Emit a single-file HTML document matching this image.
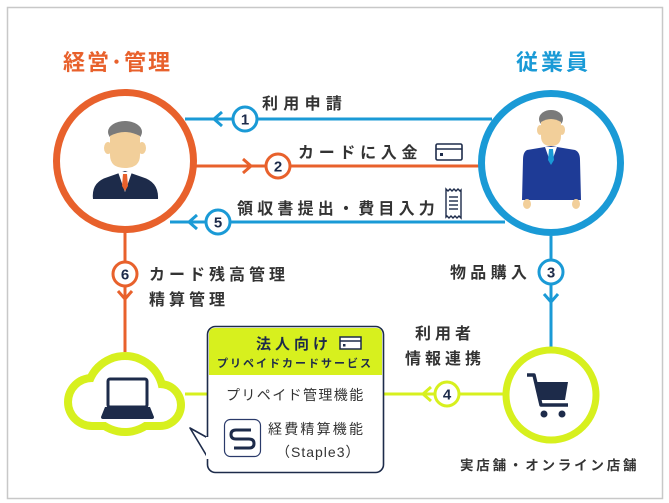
<!DOCTYPE html>
<html><head><meta charset="utf-8"><style>
html,body{margin:0;padding:0;background:#fff;}
svg{display:block;}
text{font-family:"Liberation Sans","Noto Sans CJK JP",sans-serif;}
</style></head><body>
<svg width="669" height="503" viewBox="0 0 669 503" xmlns="http://www.w3.org/2000/svg">
<rect x="7.5" y="7.5" width="655" height="491" fill="#fff" stroke="#c8c8c8" stroke-width="1.5"/>

<!-- titles -->
<text x="63" y="70" font-size="22" font-weight="bold" fill="#e8612c" letter-spacing="2">経営･管理</text>
<text x="516" y="70" font-size="22" font-weight="bold" fill="#1a9ad6" letter-spacing="3">従業員</text>

<!-- horizontal lines -->
<line x1="185" y1="119" x2="492" y2="119" stroke="#1a9ad6" stroke-width="3"/>
<line x1="195" y1="166" x2="482" y2="166" stroke="#e8612c" stroke-width="3"/>
<line x1="170" y1="222" x2="505" y2="222" stroke="#1a9ad6" stroke-width="3"/>
<polyline points="222,112 214,119 222,126" fill="none" stroke="#1a9ad6" stroke-width="3"/>
<polyline points="243,159 251,166 243,173" fill="none" stroke="#e8612c" stroke-width="3"/>
<polyline points="197,215 189,222 197,229" fill="none" stroke="#1a9ad6" stroke-width="3"/>

<!-- vertical lines -->
<line x1="125" y1="232" x2="125" y2="352" stroke="#e8612c" stroke-width="3"/>
<polyline points="118,291 125,299 132,291" fill="none" stroke="#e8612c" stroke-width="3"/>
<line x1="551" y1="236" x2="551" y2="347" stroke="#1a9ad6" stroke-width="3"/>
<polyline points="544,294 551,302 558,294" fill="none" stroke="#1a9ad6" stroke-width="3"/>

<!-- lime lines -->
<line x1="185" y1="394" x2="207" y2="394" stroke="#d7f01e" stroke-width="3"/>
<line x1="384" y1="394" x2="505" y2="394" stroke="#d7f01e" stroke-width="3"/>
<polyline points="431,387 423,394 431,401" fill="none" stroke="#d7f01e" stroke-width="3"/>

<!-- number circles -->
<g font-size="15" font-weight="bold" fill="#1d2b4a" text-anchor="middle">
<circle cx="245" cy="119" r="12" fill="#fff" stroke="#1a9ad6" stroke-width="3"/><text x="245" y="124.5">1</text>
<circle cx="278" cy="166" r="12" fill="#fff" stroke="#e8612c" stroke-width="3"/><text x="278" y="171.5">2</text>
<circle cx="218" cy="222" r="12" fill="#fff" stroke="#1a9ad6" stroke-width="3"/><text x="218" y="227.5">5</text>
<circle cx="125" cy="274" r="12" fill="#fff" stroke="#e8612c" stroke-width="3"/><text x="125" y="279.5">6</text>
<circle cx="551" cy="272" r="12" fill="#fff" stroke="#1a9ad6" stroke-width="3"/><text x="551" y="277.5">3</text>
<circle cx="447" cy="394" r="12" fill="#fff" stroke="#d7f01e" stroke-width="3"/><text x="447" y="399.5">4</text>
</g>

<!-- labels -->
<g font-size="16" fill="#333" font-weight="bold">
<text x="262" y="109" letter-spacing="5.3">利用申請</text>
<text x="298" y="158" letter-spacing="4.7">カードに入金</text>
<text x="237" y="214" letter-spacing="4.2">領収書提出・費目入力</text>
<text x="149" y="280" letter-spacing="4">カード残高管理</text>
<text x="149" y="305" letter-spacing="4">精算管理</text>
<text x="450" y="278" letter-spacing="4.3">物品購入</text>
<text x="415" y="339" letter-spacing="4">利用者</text>
<text x="405" y="364" letter-spacing="4">情報連携</text>
<text x="460" y="470" font-size="13.5" letter-spacing="2.8">実店舗・オンライン店舗</text>
</g>
<!-- card icon -->
<rect x="436" y="144" width="26" height="16" rx="1.5" fill="#fff" stroke="#1d2b4a" stroke-width="1.6"/>
<line x1="436" y1="149" x2="462" y2="149" stroke="#1d2b4a" stroke-width="1.6"/>
<rect x="440" y="153" width="3" height="3" fill="#1d2b4a"/>
<!-- receipt icon -->
<path d="M446,189 L448,191 L450,189 L452,191 L454,189 L456,191 L458,189 L460,191 L461,190 V218 L459,216 L457,218 L455,216 L453,218 L451,216 L449,218 L447,216 L446,217 Z" fill="#fff" stroke="#1d2b4a" stroke-width="1.4"/>
<g stroke="#1d2b4a" stroke-width="1.4"><line x1="449" y1="197" x2="458" y2="197"/><line x1="449" y1="201" x2="458" y2="201"/><line x1="449" y1="205" x2="458" y2="205"/><line x1="449" y1="209" x2="458" y2="209"/></g>

<!-- left person circle -->
<circle cx="125" cy="161" r="68.5" fill="#fff" stroke="#e8612c" stroke-width="7"/>
<ellipse cx="125" cy="132" rx="17" ry="11" fill="#7a7a7a"/>
<ellipse cx="108" cy="148" rx="4" ry="6" fill="#f2cf9a"/>
<ellipse cx="142" cy="148" rx="4" ry="6" fill="#f2cf9a"/>
<path d="M110,136 Q125,128 140,136 V155 Q140,168 125,168 Q110,168 110,155 Z" fill="#f2cf9a"/>
<path d="M93,199 Q91,182 108,177 L125,171 L142,177 Q159,182 158,199 Z" fill="#1d2b4a"/>
<path d="M118,172 L125,192 L132,172 Z" fill="#fff"/>
<path d="M123,174 L127,174 L128,186 L125,191 L122,186 Z" fill="#e8612c"/>

<!-- right person circle -->
<circle cx="551" cy="163" r="69.5" fill="#fff" stroke="#1a9ad6" stroke-width="7"/>
<ellipse cx="551" cy="119" rx="12" ry="9" fill="#7a7a7a"/>
<ellipse cx="540" cy="130" rx="3" ry="5" fill="#f2cf9a"/>
<ellipse cx="562" cy="130" rx="3" ry="5" fill="#f2cf9a"/>
<path d="M541,122 Q551,116 561,122 V136 Q561,146 551,146 Q541,146 541,136 Z" fill="#f2cf9a"/>
<path d="M527,150 L551,146 L575,150 Q580,152 580,160 L581,200 L522,200 L523,160 Q523,152 527,150 Z" fill="#1e3b96"/>
<path d="M545,147 L551,164 L557,147 Z" fill="#fff"/>
<path d="M549,149 L553,149 L554,160 L551,165 L548,160 Z" fill="#1a9ad6"/>
<ellipse cx="527" cy="204" rx="4" ry="5" fill="#f2cf9a"/>
<ellipse cx="576" cy="204" rx="4" ry="5" fill="#f2cf9a"/>

<!-- cloud -->
<g fill="#d7f01e">
<circle cx="92" cy="402" r="28"/><circle cx="125" cy="394" r="42"/><circle cx="160" cy="405" r="25"/>
<rect x="92" y="400" width="68" height="30"/>
</g>
<g fill="#fff">
<circle cx="92" cy="402" r="20"/><circle cx="125" cy="394" r="34"/><circle cx="160" cy="405" r="17"/>
<rect x="92" y="400" width="68" height="22"/>
</g>
<rect x="108" y="379" width="39" height="28" rx="2" fill="#fff" stroke="#1d2b4a" stroke-width="3"/>
<path d="M105,407 H150 L154,417 Q154,419 152,419 H103 Q101,419 101,417 Z" fill="#1d2b4a"/>

<!-- cart circle -->
<circle cx="551" cy="395" r="45" fill="#fff" stroke="#d7f01e" stroke-width="7"/>
<path d="M527,375 H534 L541,405 H568" fill="none" stroke="#1d2b4a" stroke-width="3.5" stroke-linejoin="round"/>
<path d="M535,382 H568 L565,400 H539 Z" fill="#1d2b4a"/>
<circle cx="544" cy="414" r="3.5" fill="#1d2b4a"/><circle cx="562" cy="414" r="3.5" fill="#1d2b4a"/>

<!-- callout -->
<path d="M208,438 L190,428 L208,458 Z" fill="#fff" stroke="#1d2b4a" stroke-width="1.6" stroke-linejoin="round"/>
<rect x="207.5" y="326.5" width="176" height="146" rx="8" fill="#fff" stroke="#1d2b4a" stroke-width="1.6"/>
<path d="M209,334 Q209,328 215,328 H376 Q382,328 382,334 V375 H209 Z" fill="#d7f01e"/>
<rect x="206" y="437" width="4" height="22" fill="#fff"/>
<text x="256" y="349" font-size="15" font-weight="bold" fill="#1d2b4a" letter-spacing="4">法人向け</text>
<rect x="340" y="337" width="21" height="12" fill="#fff" stroke="#1d2b4a" stroke-width="1.5"/>
<line x1="340" y1="341" x2="361" y2="341" stroke="#1d2b4a" stroke-width="1.5"/>
<rect x="343" y="344" width="2.5" height="2.5" fill="#1d2b4a"/>
<text x="217" y="367" font-size="11" font-weight="bold" fill="#1d2b4a" letter-spacing="2">プリペイドカードサービス</text>
<text x="226" y="400" font-size="14" fill="#333" letter-spacing="1.4">プリペイド管理機能</text>
<rect x="224.5" y="419.5" width="36" height="37" rx="6" fill="#fff" stroke="#2a3a6a" stroke-width="1.2"/>
<path d="M251,430 H236 Q231,430 231,434.5 Q231,439 236,439 H249 Q254,439 254,443.5 Q254,448 249,448 H234" fill="none" stroke="#1d2b4a" stroke-width="3"/>
<text x="268" y="434" font-size="14" fill="#333" letter-spacing="2.2">経費精算機能</text>
<text x="276" y="457" font-size="14" fill="#333" letter-spacing="1">（Staple3）</text>
</svg>
</body></html>
